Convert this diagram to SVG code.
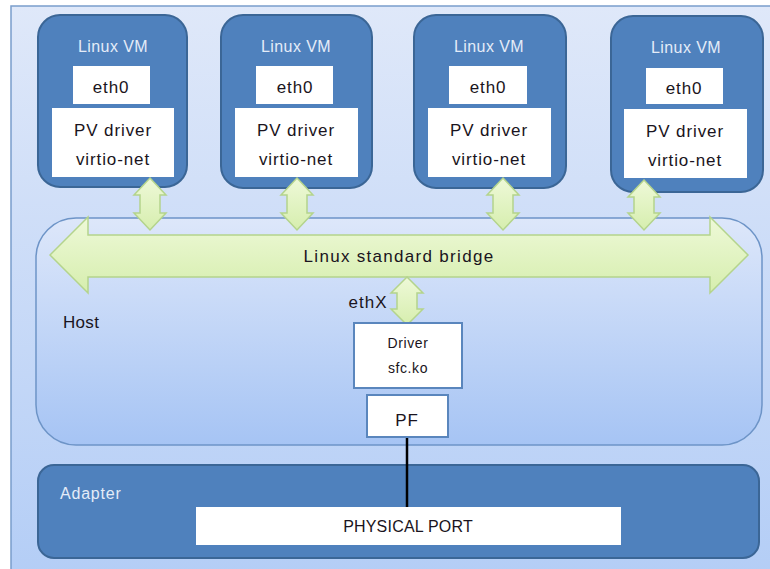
<svg xmlns="http://www.w3.org/2000/svg" width="770" height="569" viewBox="0 0 770 569">
<defs>
  <linearGradient id="bg" x1="0" y1="0" x2="0" y2="1">
    <stop offset="0" stop-color="#dfe8f9"/>
    <stop offset="1" stop-color="#b3cdf6"/>
  </linearGradient>
  <linearGradient id="host" x1="0" y1="0" x2="0" y2="1">
    <stop offset="0" stop-color="#dde7fa"/>
    <stop offset="1" stop-color="#a6c4f4"/>
  </linearGradient>
  <linearGradient id="green" x1="0" y1="0" x2="0" y2="1">
    <stop offset="0" stop-color="#eef9d8"/>
    <stop offset="1" stop-color="#d6eeae"/>
  </linearGradient>
  <style>
    .vm { fill:#4f81bd; stroke:#3b6696; stroke-width:2; }
    .wbox { fill:#ffffff; }
    .sbox { fill:#ffffff; stroke:#5a86bd; stroke-width:2; }
    .arr { fill:url(#green); stroke:#b4d48c; stroke-width:1.5; stroke-linejoin:miter; }
    .t { font-family:"Liberation Sans", Arial, sans-serif; font-size:17px; fill:#1a1420; text-anchor:middle; letter-spacing:0.9px; }
    .tw { font-family:"Liberation Sans", Arial, sans-serif; font-size:16px; fill:#e4ecf8; text-anchor:middle; letter-spacing:0.4px; }
    .ts { font-family:"Liberation Sans", Arial, sans-serif; font-size:14px; fill:#1a1420; text-anchor:middle; letter-spacing:0.6px; }
  </style>
</defs>
<rect x="11" y="6" width="770" height="580" fill="url(#bg)" stroke="#7a9dcc" stroke-width="1.5"/>

<g id="host">
  <rect x="36" y="218" width="726" height="227" rx="40" ry="40" fill="url(#host)" stroke="#6d94c7" stroke-width="1.5"/>
  <text x="63" y="328" class="t" style="text-anchor:start;letter-spacing:0.3px">Host</text>
</g>

<g id="adapter">
  <rect x="38" y="465" width="721" height="93" rx="16" ry="16" class="vm"/>
  <text x="60" y="499" class="tw" style="text-anchor:start;letter-spacing:0.8px">Adapter</text>
</g>

<g id="vm1">
  <rect x="38" y="15" width="149" height="172" rx="22" ry="22" class="vm"/>
  <text x="113" y="52" class="tw">Linux VM</text>
  <rect x="73" y="66" width="77" height="38" class="wbox"/>
  <text x="111" y="93" class="t">eth0</text>
  <rect x="52" y="108" width="122" height="69" class="wbox"/>
  <text x="113" y="136" class="t">PV driver</text>
  <text x="113" y="165" class="t">virtio-net</text>
</g>

<g id="vm2">
  <rect x="221" y="15" width="151" height="173" rx="22" ry="22" class="vm"/>
  <text x="296" y="52" class="tw">Linux VM</text>
  <rect x="256" y="66" width="77" height="38" class="wbox"/>
  <text x="295" y="93" class="t">eth0</text>
  <rect x="235" y="108" width="123" height="69" class="wbox"/>
  <text x="296" y="136" class="t">PV driver</text>
  <text x="296" y="165" class="t">virtio-net</text>
</g>

<g id="vm3">
  <rect x="414" y="15" width="152" height="173" rx="22" ry="22" class="vm"/>
  <text x="489" y="52" class="tw">Linux VM</text>
  <rect x="449" y="66" width="78" height="38" class="wbox"/>
  <text x="488" y="93" class="t">eth0</text>
  <rect x="428" y="108" width="123" height="69" class="wbox"/>
  <text x="489" y="136" class="t">PV driver</text>
  <text x="489" y="165" class="t">virtio-net</text>
</g>

<g id="vm4">
  <rect x="611" y="16" width="152" height="176" rx="22" ry="22" class="vm"/>
  <text x="686" y="53" class="tw">Linux VM</text>
  <rect x="646" y="68" width="77" height="36" class="wbox"/>
  <text x="684" y="94" class="t">eth0</text>
  <rect x="624" y="109" width="123" height="69" class="wbox"/>
  <text x="685" y="137" class="t">PV driver</text>
  <text x="685" y="166" class="t">virtio-net</text>
</g>

<g id="bridge">
  <path class="arr" d="M50,255 L88,217 L88,235 L710,235 L710,217 L748,255 L710,293 L710,277 L88,277 L88,293 Z"/>
  <text x="399" y="262" class="t" style="letter-spacing:1.3px">Linux standard bridge</text>
</g>

<g id="connectors">
  <line x1="407" y1="437" x2="407" y2="508" stroke="#000" stroke-width="2.5"/>
  <path class="arr" d="M150,178 L166,195 L160,195 L160,213 L166,213 L150,230 L134,213 L140,213 L140,195 L134,195 Z"/>
  <path class="arr" d="M297,178 L313,195 L307,195 L307,213 L313,213 L297,230 L281,213 L287,213 L287,195 L281,195 Z"/>
  <path class="arr" d="M503,178 L519,195 L513,195 L513,213 L519,213 L503,230 L487,213 L493,213 L493,195 L487,195 Z"/>
  <path class="arr" d="M644,180 L660,197 L654,197 L654,213 L660,213 L644,230 L628,213 L634,213 L634,197 L628,197 Z"/>
  <path class="arr" d="M407,277 L423,293 L417,293 L417,309 L423,309 L407,325 L391,309 L397,309 L397,293 L391,293 Z"/>
</g>

<g id="ethx">
  <text x="368" y="308" class="t" style="letter-spacing:1px">ethX</text>
</g>

<g id="driver">
  <rect x="354" y="323" width="108" height="65" class="sbox"/>
  <text x="408" y="348" class="ts">Driver</text>
  <text x="408" y="373" class="ts">sfc.ko</text>
</g>

<g id="pf">
  <rect x="367" y="395" width="81" height="42" class="sbox"/>
  <text x="407" y="426" class="t">PF</text>
</g>

<g id="physport">
  <rect x="196" y="507" width="425" height="38" class="wbox"/>
  <text x="408" y="532" class="t" style="font-size:16px;letter-spacing:0.2px">PHYSICAL PORT</text>
</g>
</svg>
